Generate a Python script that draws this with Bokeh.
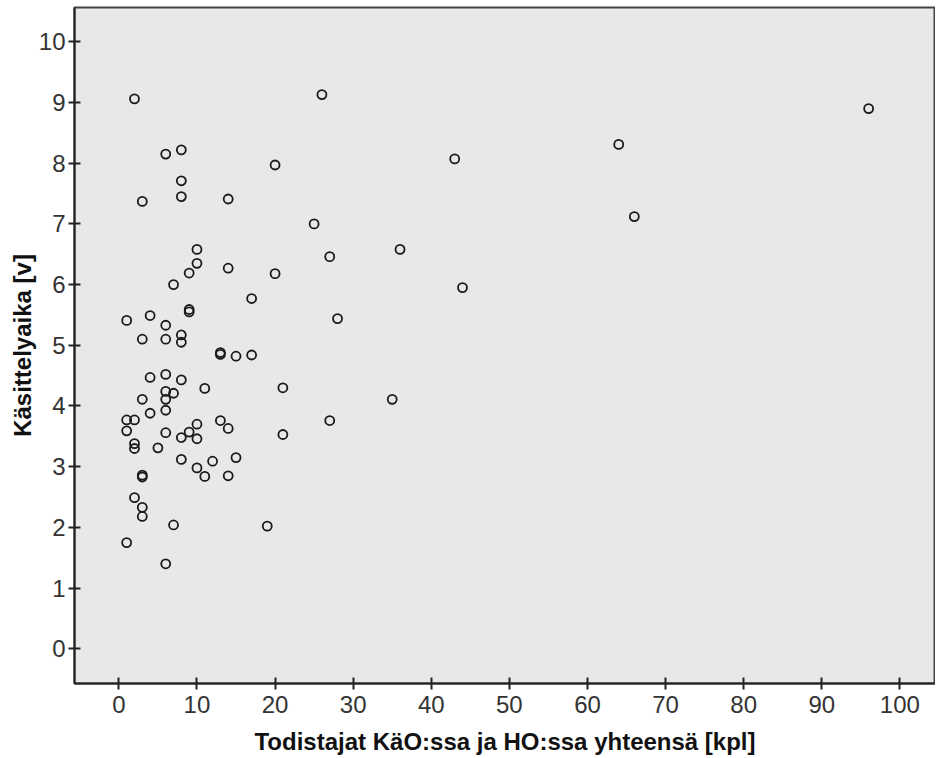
from bokeh.plotting import figure
from bokeh.models import Range1d, FixedTicker, ColumnDataSource
from bokeh.embed import file_html
from bokeh.resources import INLINE

witnesses = [2, 26, 6, 8, 20, 8, 3, 8, 14, 25,
             10, 27, 10, 14, 9, 20, 7, 17, 9, 9,
             1, 4, 6, 28, 3, 6, 8, 8, 13, 13,
             15, 17, 4, 6, 8, 11, 21, 6, 7, 3,
             6, 6, 4, 1, 2, 27, 10, 13, 14, 1,
             6, 9, 8, 10, 21, 2, 2, 5, 8, 12,
             15, 10, 11, 14, 3, 3, 2, 3, 3, 7,
             19, 1, 6, 96, 64, 43, 66, 36, 44, 35]
duration = [9.06, 9.13, 8.15, 8.22, 7.97, 7.71, 7.37, 7.45, 7.41, 7.00,
            6.58, 6.46, 6.35, 6.27, 6.19, 6.18, 6.00, 5.77, 5.59, 5.55,
            5.41, 5.49, 5.33, 5.44, 5.10, 5.10, 5.17, 5.05, 4.88, 4.85,
            4.82, 4.84, 4.47, 4.52, 4.43, 4.29, 4.30, 4.24, 4.21, 4.11,
            4.11, 3.93, 3.88, 3.77, 3.77, 3.76, 3.70, 3.76, 3.63, 3.59,
            3.56, 3.57, 3.48, 3.46, 3.53, 3.38, 3.30, 3.31, 3.12, 3.09,
            3.15, 2.98, 2.84, 2.85, 2.86, 2.83, 2.49, 2.33, 2.18, 2.04,
            2.02, 1.75, 1.40, 8.90, 8.31, 8.07, 7.12, 6.58, 5.95, 4.11]
x_ticks = [0, 10, 20, 30, 40, 50, 60, 70, 80, 90, 100]
y_ticks = [0, 1, 2, 3, 4, 5, 6, 7, 8, 9, 10]
x_title = "Todistajat KäO:ssa ja HO:ssa yhteensä [kpl]"
y_title = "Käsittelyaika [v]"

src = ColumnDataSource(data=dict(x=witnesses, y=duration))

p = figure(frame_width=861, frame_height=676,
           x_range=Range1d(-5.68, 104.56), y_range=Range1d(-0.572, 10.565),
           output_backend="svg", toolbar_location=None,
           min_border_left=74, min_border_top=7, min_border_right=0, min_border_bottom=60,
           background_fill_color="#e8e8e8", border_fill_color="white")
p.grid.visible = False
p.outline_line_color = "#444444"
p.outline_line_width = 2

p.scatter("x", "y", source=src, marker="circle", size=9,
          fill_color=None, line_color="#1a1a1a", line_width=1.8)

for ax, ticks in ((p.xaxis, x_ticks), (p.yaxis, y_ticks)):
    ax.ticker = FixedTicker(ticks=ticks)
    ax.minor_tick_line_color = None
    ax.major_tick_in = 6
    ax.major_tick_out = 6
    ax.major_tick_line_width = 2
    ax.major_tick_line_color = "#222222"
    ax.axis_line_width = 2
    ax.axis_line_color = "#222222"
    ax.major_label_text_font = "Liberation Sans"
    ax.major_label_text_font_size = "24px"
    ax.major_label_text_color = "#333333"
    ax.axis_label_text_font = "Liberation Sans"
    ax.axis_label_text_font_style = "bold"
    ax.axis_label_text_font_size = "24px"
    ax.axis_label_text_color = "#111111"

p.xaxis.axis_label = x_title
p.yaxis.axis_label = y_title
p.xaxis.major_label_standoff = 6
p.yaxis.major_label_standoff = 3
p.xaxis.axis_label_standoff = 12
p.yaxis.axis_label_standoff = 0

open("out.html", "w").write(file_html(p, INLINE))
